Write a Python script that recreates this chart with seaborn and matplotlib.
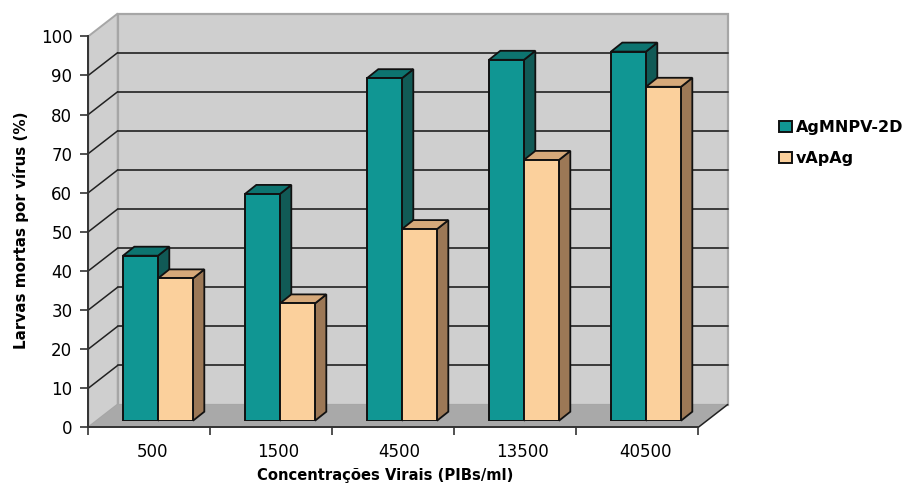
#!/usr/bin/env python3
import matplotlib

matplotlib.use("Agg")
import matplotlib.pyplot as plt
import pandas as pd
import seaborn as sns
from matplotlib.patches import Polygon

concentrations = ["500", "1500", "4500", "13500", "40500"]
agmnpv = [42.2, 58.0, 87.6, 92.3, 94.4]
vapag = [36.4, 30.0, 49.0, 66.7, 85.4]
series_names = ["AgMNPV-2D", "vApAg"]
y_ticks = list(range(0, 101, 10))

W, H = 904, 483
PLOT_W, PLOT_H = 610.0, 391.0
FRONT_LEFT, FRONT_BASE = 88.3, 427.3
BAR_LEFT, BAR_BASE = 97.0, 420.7
WALL_DX, WALL_DY = 29.4, 22.8
BAR_DX, BAR_DY = 11.3, 9.0
# category labels are not quite centred in the reference, shift in px
LABEL_SHIFT = [3.5, 7, 5.5, 7, 8]

COLORS = ["#109693", "#FBD09C"]
SIDE = ["#115A56", "#9C7856"]
TOP = ["#0D7470", "#D6A97A"]
WALL = "#CFCFCF"
FLOOR = "#A9A9A9"
EDGE = "#A6A6A6"
DARK = "#222222"

sns.set_theme(style="white")
plt.rcParams["font.family"] = ["DejaVu Sans"]

df = pd.DataFrame(
    {
        "conc": concentrations * 2,
        "serie": [series_names[0]] * 5 + [series_names[1]] * 5,
        "valor": agmnpv + vapag,
    }
)

fig = plt.figure(figsize=(W / 100, H / 100), dpi=100, facecolor="white")
front = fig.add_axes([FRONT_LEFT / W, 1 - FRONT_BASE / H, PLOT_W / W, PLOT_H / H])
bars = fig.add_axes([BAR_LEFT / W, 1 - BAR_BASE / H, PLOT_W / W, PLOT_H / H], zorder=5)

# front plane: real axis with ticks and labels, walls are built around it
front.set_xlim(-0.5, 4.5)
front.set_ylim(0, 100)
front.patch.set_visible(False)
wx = WALL_DX / (PLOT_W / 5)
wy = WALL_DY / (PLOT_H / 100)

front.add_patch(Polygon([(-0.5 + wx, wy), (4.5 + wx, wy), (4.5 + wx, 100 + wy), (-0.5 + wx, 100 + wy)],
                        fc=WALL, ec=EDGE, lw=1.6, clip_on=False, zorder=1))
front.add_patch(Polygon([(-0.5, 0), (-0.5 + wx, wy), (-0.5 + wx, 100 + wy), (-0.5, 100)],
                        fc=WALL, ec=EDGE, lw=1.4, clip_on=False, zorder=1))
front.add_patch(Polygon([(-0.5, 0), (4.5, 0), (4.5 + wx, wy), (-0.5 + wx, wy)],
                        fc=FLOOR, ec="none", clip_on=False, zorder=1))
for t in y_ticks[1:-1]:
    front.plot([-0.5 + wx, 4.5 + wx], [t + wy, t + wy], color="#3A3A3A", lw=1.4, clip_on=False, zorder=2)
    front.plot([-0.5, -0.5 + wx], [t, t + wy], color=DARK, lw=1.1, clip_on=False, zorder=2)
front.plot([4.5, 4.5 + wx], [0, wy], color=DARK, lw=1.1, clip_on=False, zorder=2)

front.set_yticks(y_ticks)
front.set_xticks([-0.5, 0.5, 1.5, 2.5, 3.5, 4.5])
front.set_xticklabels([])
label_pos = [i + s / (PLOT_W / 5) for i, s in enumerate(LABEL_SHIFT)]
front.set_xticks(label_pos, labels=concentrations, minor=True)
front.tick_params(axis="x", which="major", length=5.5, width=1.1, color=DARK, bottom=True)
front.tick_params(axis="x", which="minor", length=0, pad=11, labelsize=12, labelcolor="black", bottom=False)
front.tick_params(axis="y", length=5.5, width=1.1, color=DARK, left=True, pad=6, labelsize=12, labelcolor="black")
for name in ["top", "right"]:
    front.spines[name].set_visible(False)
for name in ["left", "bottom"]:
    front.spines[name].set_color("#333333")
    front.spines[name].set_linewidth(1.4)
    front.spines[name].set_zorder(3)

front.set_xlabel("Concentrações Virais (PIBs/ml)", fontsize=10.6, fontweight="bold", color="black")
front.xaxis.set_label_coords(0.4875, -0.105)
front.set_ylabel("Larvas mortas por vírus (%)", fontsize=10.9, fontweight="bold", color="black")
front.yaxis.set_label_coords(-0.098, 0.505)

# bar plane sits a little deeper than the front plane
sns.barplot(
    data=df, x="conc", y="valor", hue="serie", order=concentrations, hue_order=series_names,
    palette=COLORS, width=0.574, gap=0, saturation=1, edgecolor="#111111", linewidth=1.4, ax=bars,
)
bars.set_xlim(-0.5, 4.5)
bars.set_ylim(0, 100)
bars.patch.set_visible(False)
bars.axis("off")

bx = BAR_DX / (PLOT_W / 5)
by = BAR_DY / (PLOT_H / 100)
for s, container in enumerate(bars.containers):
    for p in container:
        x0, x1, h = p.get_x(), p.get_x() + p.get_width(), p.get_height()
        p.set_zorder(5)
        bars.add_patch(Polygon([(x1, 0), (x1 + bx, by), (x1 + bx, h + by), (x1, h)],
                               fc=SIDE[s], ec="#111111", lw=1.3, clip_on=False, zorder=3 + s * 0.5))
        bars.add_patch(Polygon([(x0, h), (x1, h), (x1 + bx, h + by), (x0 + bx, h + by)],
                               fc=TOP[s], ec="#111111", lw=1.3, clip_on=False, zorder=3 + s * 0.5))

handles, labels = bars.get_legend_handles_labels()
bars.get_legend().remove()
fig.legend(
    handles, labels, loc="upper left", bbox_to_anchor=(779 / W, 1 - 120 / H), frameon=False,
    prop={"size": 11.5, "weight": "bold"}, handlelength=0.8, handleheight=0.7,
    handletextpad=0.25, labelspacing=1.0, borderpad=0, borderaxespad=0, labelcolor="black",
)

fig.savefig("out.png", dpi=100, facecolor="white")
